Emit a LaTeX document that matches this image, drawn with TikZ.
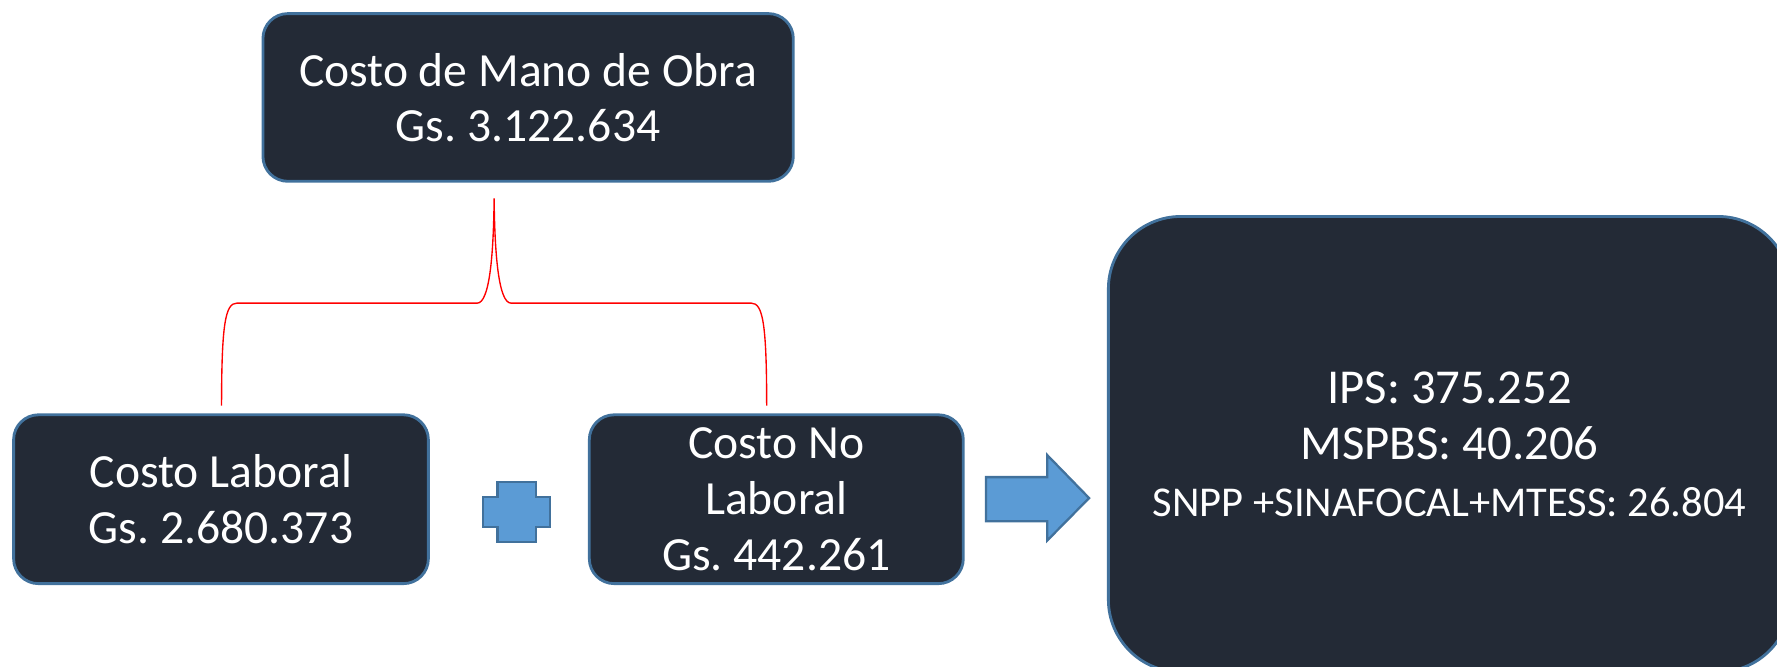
\documentclass[tikz,border=0pt]{standalone}
\usepackage{fontspec}
\setmainfont{Carlito}
\definecolor{boxfill}{HTML}{232A36}
\definecolor{boxline}{HTML}{41719C}
\definecolor{shapefill}{HTML}{5B9BD5}
\begin{document}
\frenchspacing
\begin{tikzpicture}[x=1pt,y=-1pt,
  darkbox/.style={draw=boxline, line width=2.5pt, fill=boxfill, rounded corners=22pt,
    text=white, align=center, inner sep=0pt, font=\fontsize{42}{49}\selectfont},
  blueshape/.style={draw=boxline, line width=2pt, fill=shapefill},
  bracket/.style={draw=red, line width=1.2pt}]
\useasboundingbox (0,0) rectangle (1568,587.7);
\node[darkbox, minimum width=468pt, minimum height=148pt] (top) at (466,86)
  {Costo de Mano de Obra\\Gs. 3.122.634};
\node[darkbox, minimum width=366pt, minimum height=149pt] (lab) at (195,440.5)
  {Costo Laboral\\Gs. 2.680.373};
\node[darkbox, minimum width=330pt, minimum height=149pt] (nolab) at (685,440.5)
  {Costo No\\Laboral\\Gs. 442.261};
\node[darkbox, rounded corners=64pt, minimum width=602pt, minimum height=402pt,
  font=\fontsize{43}{50}\selectfont] (right) at (1279,392)
  {IPS: 375.252\\MSPBS: 40.206\\{\fontsize{37.5}{48}\selectfont SNPP +SINAFOCAL+MTESS: 26.804}};
% plus sign
\draw[blueshape] (439,425) -- (473,425) -- (473,438.5) -- (485,438.5) -- (485,465)
  -- (473,465) -- (473,478) -- (439,478) -- (439,465) -- (426,465) -- (426,438.5)
  -- (439,438.5) -- cycle;
% arrow
\draw[blueshape] (870,421) -- (924,421) -- (924,401.5) -- (961,439.5) -- (924,477)
  -- (924,460) -- (870,460) -- cycle;
% bracket
\coordinate (bl) at (195.5,358);
\coordinate (br) at (676.5,358);
\coordinate (bt) at (436,175);
\draw[bracket] (bl) .. controls (195.5,285) and (199,267.5) .. (209,267.5)
  -- (421,267.5) .. controls (432,267.5) and (435.5,225) .. (bt)
  .. controls (436.5,225) and (440,267.5) .. (451,267.5)
  -- (663,267.5) .. controls (673,267.5) and (676.5,285) .. (br);
\end{tikzpicture}
\end{document}
